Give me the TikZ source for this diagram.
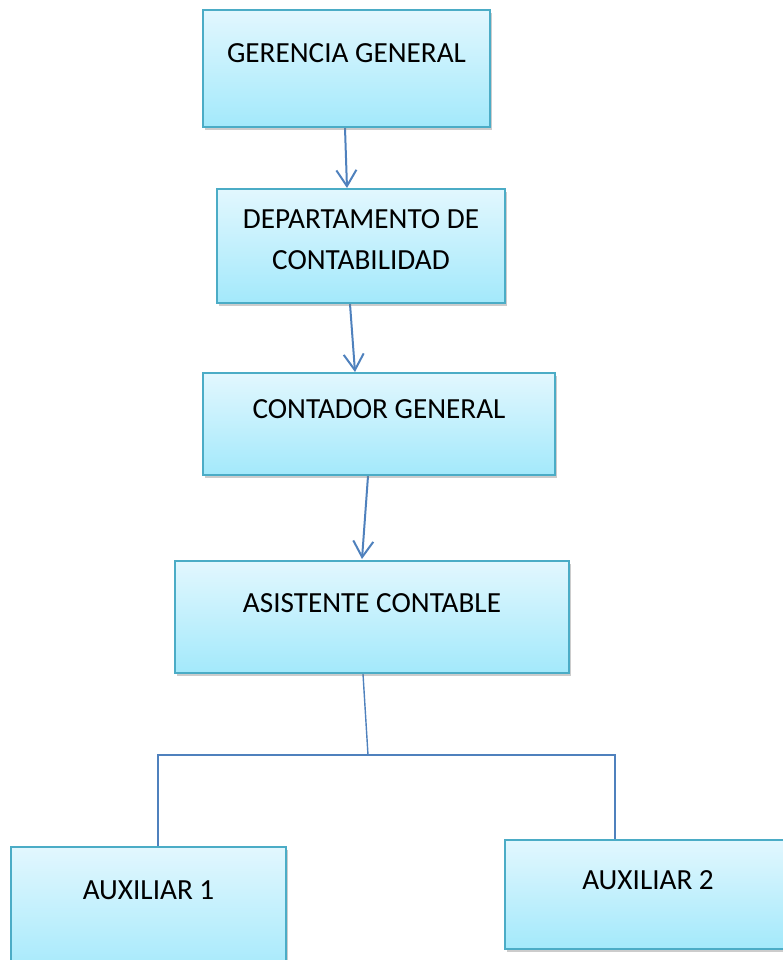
\documentclass[tikz,border=0pt]{standalone}
\usepackage{fontspec}
\setmainfont{Carlito}
\usepackage{tikz}
\usetikzlibrary{arrows.meta}
\usetikzlibrary{shadows}
\pgfdeclarelayer{edgelayer}
\pgfdeclarelayer{nodelayer}
\pgfsetlayers{edgelayer,nodelayer,main}
\definecolor{boxtop}{RGB}{226,247,254}
\definecolor{boxbot}{RGB}{163,233,251}
\definecolor{boxline}{RGB}{75,172,198}
\definecolor{linkblue}{RGB}{79,129,189}
\tikzstyle{none}=[inner sep=0pt]
\tikzstyle{cargo}=[draw=boxline, line width=2pt, top color=boxtop, bottom color=boxbot, inner sep=0pt,
  drop shadow={shadow xshift=2pt, shadow yshift=-3pt, opacity=0.4}]
\tikzstyle{rotulo}=[inner sep=0pt, anchor=base, font=\fontsize{29.2}{35}\selectfont]
\tikzstyle{flecha}=[draw=linkblue, line width=2pt, -{Straight Barb[length=16pt,width=20pt,line width=2pt]}]
\tikzstyle{rama}=[draw=linkblue, line width=1.4pt]

\begin{document}
\begin{tikzpicture}[x=1pt, y=-1pt]
	\useasboundingbox (0,0) rectangle (783,960);
	\begin{pgfonlayer}{nodelayer}
		\node [style=cargo, minimum width=287, minimum height=117] (0) at (346.5,68.5) {};
		\node [style=cargo, minimum width=288, minimum height=114] (1) at (361,246) {};
		\node [style=cargo, minimum width=352, minimum height=102] (2) at (379,424) {};
		\node [style=cargo, minimum width=394, minimum height=112] (3) at (372,617) {};
		\node [style=cargo, minimum width=275, minimum height=130] (4) at (148.5,912) {};
		\node [style=cargo, minimum width=290, minimum height=109] (5) at (650,894.5) {};
		\node [style=rotulo] (t0) at (346.5,63) {GERENCIA GENERAL};
		\node [style=rotulo] (t1) at (361,228) {DEPARTAMENTO DE};
		\node [style=rotulo] (t1b) at (361,269) {CONTABILIDAD};
		\node [style=rotulo] (t2) at (379,418) {CONTADOR GENERAL};
		\node [style=rotulo] (t3) at (372,612) {ASISTENTE CONTABLE};
		\node [style=rotulo] (t4) at (148.5,899) {AUXILIAR 1};
		\node [style=rotulo] (t5) at (648,889) {AUXILIAR 2};
		\node [style=none] (10) at (345,128) {};
		\node [style=none] (11) at (347,188) {};
		\node [style=none] (12) at (350,304) {};
		\node [style=none] (13) at (355,372) {};
		\node [style=none] (14) at (368,476) {};
		\node [style=none] (15) at (362,559) {};
		\node [style=none] (16) at (363,674) {};
		\node [style=none] (17) at (368,755) {};
		\node [style=none] (18) at (158,755) {};
		\node [style=none] (19) at (615,755) {};
		\node [style=none] (20) at (158,847) {};
		\node [style=none] (21) at (615,840) {};
	\end{pgfonlayer}
	\begin{pgfonlayer}{edgelayer}
		\draw [style=flecha] (10.center) to (11.center);
		\draw [style=flecha] (12.center) to (13.center);
		\draw [style=flecha] (14.center) to (15.center);
		\draw [style=rama] (16.center) to (17.center);
		\draw [style=rama] (20.center) to (18.center) to (19.center) to (21.center);
	\end{pgfonlayer}
\end{tikzpicture}
\end{document}
